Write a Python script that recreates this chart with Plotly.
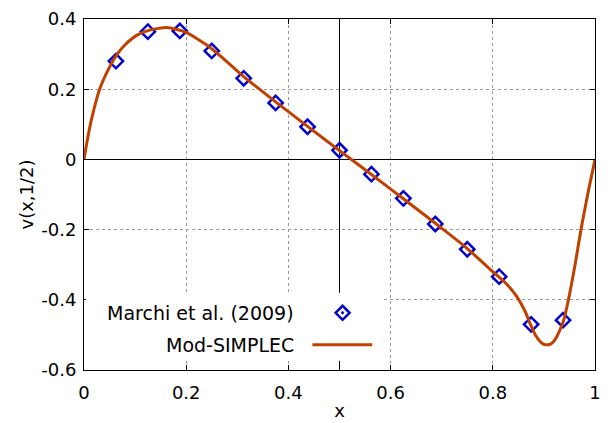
import plotly.graph_objects as go

# Reference data (Marchi et al. 2009)
ref_x = [0.0625, 0.125, 0.1875, 0.25, 0.3125, 0.375, 0.4375, 0.5, 0.5625,
         0.625, 0.6875, 0.75, 0.8125, 0.875, 0.9375]
ref_y = [0.280, 0.364, 0.366, 0.309, 0.231, 0.161, 0.093, 0.026, -0.042,
         -0.111, -0.184, -0.256, -0.334, -0.470, -0.458]

# Mod-SIMPLEC profile
sim_x = [0, 0.0065, 0.0143, 0.0306, 0.05, 0.065, 0.08, 0.104, 0.13, 0.162, 0.198,
         0.241, 0.28, 0.3125, 0.375, 0.4375, 0.5, 0.5625, 0.625, 0.6875, 0.75,
         0.8, 0.825, 0.847, 0.8636, 0.873, 0.884, 0.892, 0.899, 0.906, 0.913,
         0.919, 0.925, 0.932, 0.939, 0.948, 0.961, 0.9726, 0.987, 1.0]
sim_y = [0, 0.055, 0.112, 0.2, 0.263, 0.30, 0.326, 0.354, 0.369, 0.3755, 0.363,
         0.325, 0.278, 0.236, 0.164, 0.094, 0.025, -0.043, -0.112, -0.182, -0.254,
         -0.32, -0.352, -0.391, -0.434, -0.468, -0.502, -0.518, -0.526, -0.528, -0.526,
         -0.519, -0.505, -0.484, -0.457, -0.4, -0.3, -0.2, -0.09, 0]

x_ticks = [0, 0.2, 0.4, 0.6, 0.8, 1]
x_labels = ["0", "0.2", "0.4", "0.6", "0.8", "1"]
y_ticks = [-0.6, -0.4, -0.2, 0, 0.2, 0.4]
y_labels = ["-0.6", "-0.4", "-0.2", "0", "0.2", "0.4"]

BLUE = "#0000cc"
ORANGE = "#c04000"
FONT = "DejaVu Sans"

fig = go.Figure()
fig.add_trace(go.Scatter(
    x=ref_x, y=ref_y, mode="markers", name="Marchi et al. (2009)",
    marker=dict(symbol="diamond-open", size=11, color=BLUE,
                line=dict(color=BLUE, width=2.5)),
    showlegend=False))
fig.add_trace(go.Scatter(
    x=sim_x, y=sim_y, mode="lines", name="Mod-SIMPLEC",
    line=dict(color=ORANGE, width=3, shape="spline", smoothing=0.6),
    showlegend=False))

axis_common = dict(
    showline=True, linecolor="black", linewidth=1, mirror="ticks",
    ticks="inside", ticklen=5, tickcolor="black", tickwidth=1,
    showgrid=True, gridcolor="#999999", griddash="dot", gridwidth=1,
    tickfont=dict(family=FONT, size=18, color="black"),
    automargin=False,
)

fig.update_layout(
    width=612, height=423,
    margin=dict(l=84, r=17, t=19, b=53),
    paper_bgcolor="white", plot_bgcolor="white",
    font=dict(family=FONT, size=18, color="black"),
    xaxis=dict(range=[0, 1], tickvals=x_ticks, ticktext=x_labels,
               zeroline=False, ticklabelstandoff=6,
               title=dict(text="x", font=dict(family=FONT, size=18), standoff=2),
               **axis_common),
    yaxis=dict(range=[-0.6, 0.4], tickvals=y_ticks, ticktext=y_labels,
               zeroline=True, zerolinecolor="black", zerolinewidth=1,
               ticklabelstandoff=3,
               title=dict(text="v(x,1/2)", font=dict(family=FONT, size=18), standoff=2),
               **axis_common),
)

# vertical line at x = 0.5
fig.add_shape(type="line", xref="x", yref="paper", x0=0.5, x1=0.5, y0=0, y1=1,
              line=dict(color="black", width=1), layer="between")

# opaque legend box
fig.add_shape(type="rect", xref="x", yref="y", x0=0.004, x1=0.586, y0=-0.574, y1=-0.38,
              fillcolor="white", line=dict(width=0), layer="above")

# legend entries
fig.add_annotation(x=0.4155, y=-0.437, xref="x", yref="y", text="Marchi et al. (2009)",
                   showarrow=False, xanchor="right", yanchor="middle",
                   font=dict(family=FONT, size=19, color="black"))
fig.add_annotation(x=0.4155, y=-0.528, xref="x", yref="y", text="Mod-SIMPLEC",
                   showarrow=False, xanchor="right", yanchor="middle",
                   font=dict(family=FONT, size=19, color="black"))
fig.add_shape(type="path", xref="x", yref="y", xsizemode="pixel", ysizemode="pixel",
              xanchor=0.506, yanchor=-0.437,
              path="M -7 0 L 0 7 L 7 0 L 0 -7 Z",
              line=dict(color=BLUE, width=2.5), layer="above")
fig.add_shape(type="circle", xref="x", yref="y", xsizemode="pixel", ysizemode="pixel",
              xanchor=0.506, yanchor=-0.437, x0=-1.3, x1=1.3, y0=-1.3, y1=1.3,
              fillcolor=BLUE, line=dict(color=BLUE, width=0.5), layer="above")
fig.add_shape(type="line", xref="x", yref="y", x0=0.447, x1=0.564, y0=-0.528, y1=-0.528,
              line=dict(color=ORANGE, width=3), layer="above")

fig.write_html("out.html")
